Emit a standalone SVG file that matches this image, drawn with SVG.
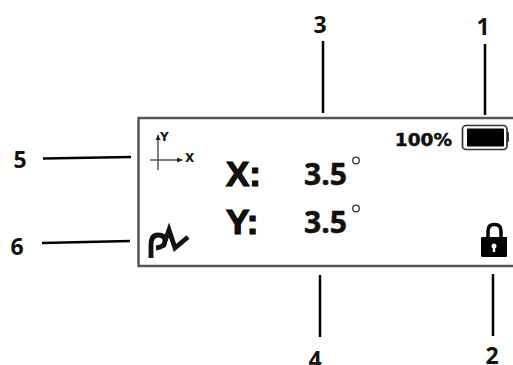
<svg xmlns="http://www.w3.org/2000/svg" width="513" height="365" viewBox="0 0 513 365">
<style>
text{font-family:"Open Sans","Liberation Sans",sans-serif;font-weight:700;fill:#111}
.n{font-size:23px;text-anchor:middle}
.c{stroke:#000;stroke-width:2.500;fill:none}
.d{font-family:"DejaVu Sans",sans-serif}
.h{font-family:"Liberation Sans",sans-serif;font-size:35px;stroke:#000;stroke-width:1.200}
.v{font-size:30px;stroke:#111;stroke-width:.5}
.deg{fill:none;stroke:#333;stroke-width:1.300}
.ax{stroke:#555;stroke-width:1.500;fill:none}
</style>
<defs><marker id="a" markerUnits="userSpaceOnUse" markerWidth="6" markerHeight="6" refX="5" refY="3" orient="auto"><path d="M0,0.500L5.500,3L0,5.500z" fill="#222"/></marker></defs>
<rect width="513" height="365" fill="#fff"/>
<g id="connectors">
<path class="c" d="M485 44V115"/><path class="c" d="M323 41V113"/>
<path class="c" d="M43 158.500L131 157"/><path class="c" d="M42 243L130 241"/>
<path class="c" d="M320 275V337"/><path class="c" d="M493 274V336"/>
</g>
<g id="screen"><path d="M513 118H138.500V266H513" fill="none" stroke="#555" stroke-width="2.500"/></g>
<g id="node-1"><text class="n" x="483" y="35">1</text></g>
<g id="node-2"><text class="n" x="492" y="364">2</text></g>
<g id="node-3"><text class="n" x="320" y="33">3</text></g>
<g id="node-4"><text class="n" x="315" y="368">4</text></g>
<g id="node-5"><text class="n" x="20" y="168">5</text></g>
<g id="node-6"><text class="n" x="17" y="255">6</text></g>
<g id="status"><text class="d" x="452" y="146" font-size="18.500" text-anchor="end" stroke="#111" stroke-width=".5">100%</text></g>
<g id="readout">
<text class="h" x="226" y="186">X:</text>
<text class="h" x="226" y="234">Y:</text>
<text class="v" x="304" y="185">3.5</text><text class="v" x="304" y="233">3.5</text>
<circle class="deg" cx="356" cy="160.500" r="3.300"/>
<circle class="deg" cx="356" cy="208.500" r="3.300"/>
</g>
<g id="axes">
<path class="ax" d="M158 170V135" marker-end="url(#a)"/>
<path class="ax" d="M150 160H182" marker-end="url(#a)"/>
<text class="d" x="160" y="141" font-size="12">Y</text>
<text class="d" x="185" y="162" font-size="12">X</text>
</g>
<g id="wave"><path d="M151 258V245Q151 235 158 235Q165 235 165 241Q165 247 156 248M163 247L169 230L175 248L188 237" fill="none" stroke="#111" stroke-width="4.800"/></g>
<g id="battery-icon">
<rect x="462.500" y="125.500" width="44.500" height="24" rx="3.500" fill="none" stroke="#333" stroke-width="1.700"/>
<rect x="467" y="128.500" width="37" height="18" rx="1" fill="#000"/><rect x="507" y="132" width="2" height="10" rx="1" fill="#333"/></g>
<g id="lock"><path d="M488 238V231Q488 224.500 494.500 224.500Q501 224.500 501 231V238" fill="none" stroke="#000" stroke-width="3.500"/>
<path fill-rule="evenodd" d="M483 237H506Q507 237 507 238V256Q507 257 506 257H483Q481 257 481 256V238Q481 237 483 237ZM494 243.500a2.500 2.500 0 0 0-1.200 4.700V252h2.400v-3.800A2.500 2.500 0 0 0 494 243.500Z" fill="#000"/></g>
</svg>
